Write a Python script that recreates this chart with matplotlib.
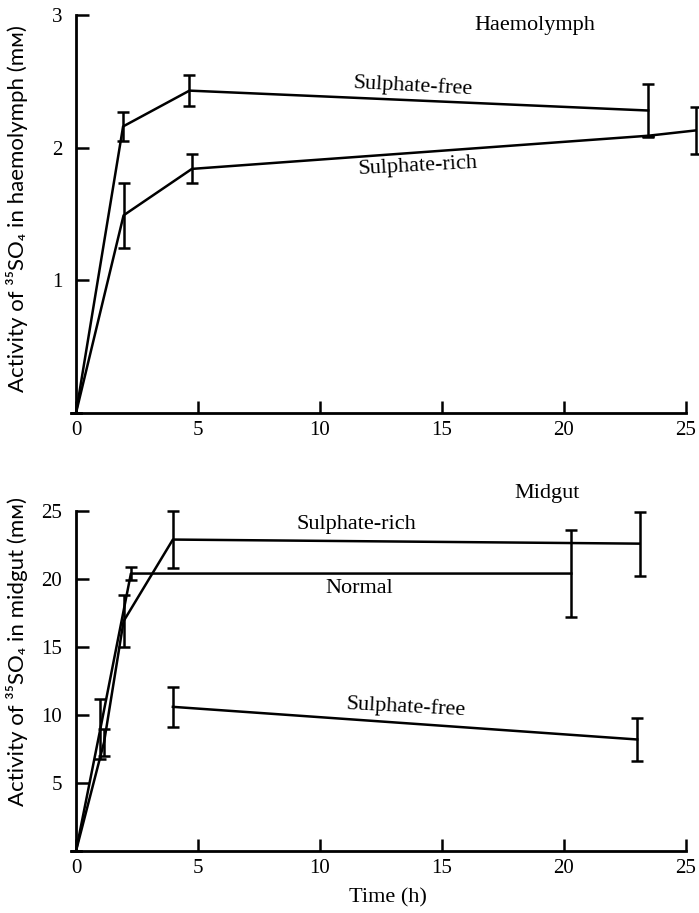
import matplotlib
matplotlib.use("Agg")
import matplotlib.pyplot as plt

plt.rcParams['font.family'] = ['Liberation Serif', 'DejaVu Serif', 'DejaVu Sans']

# haemolymph
haem_free_t = [0, 1.93, 4.65, 23.45]
haem_free_y = [0, 2.16, 2.43, 2.28]
haem_free_err = [0, 0.11, 0.115, 0.20]

haem_rich_t = [0, 1.95, 4.75, 23.45, 25.4]
haem_rich_y = [0, 1.49, 1.84, 2.09, 2.13]
haem_rich_err = [0, 0.245, 0.11, 0, 0.18]

# midgut
gut_rich_t = [0, 1.15, 1.95, 3.97, 23.1]
gut_rich_y = [0, 8.0, 16.9, 22.9, 22.6]
gut_rich_err = [0, 1.0, 1.9, 2.1, 2.35]

gut_norm_t = [0, 1.0, 2.25, 20.3]
gut_norm_y = [0, 9.0, 20.4, 20.4]
gut_norm_err = [0, 2.2, 0.5, 3.2]

gut_free_t = [3.97, 23.0]
gut_free_y = [10.6, 8.2]
gut_free_err = [1.45, 1.55]

fig = plt.figure(figsize=(6.99, 9.13), dpi=100)
ax1 = fig.add_axes([76/699, 1-413/913, 610/699, 398/913])
ax2 = fig.add_axes([76/699, 1-851/913, 610/699, 340/913])

def style(ax, ymax, yticks):
    ax.set_xlim(0, 25)
    ax.set_ylim(0, ymax)
    for s in ['top', 'right']:
        ax.spines[s].set_visible(False)
    for s in ['left', 'bottom']:
        ax.spines[s].set_linewidth(2.0)
    ax.set_xticks([0, 5, 10, 15, 20, 25])
    ax.set_yticks(yticks)
    ax.tick_params(direction='in', length=9, width=1.8, labelsize=15)
    ax.tick_params(axis='y', pad=10)
    ax.tick_params(axis='x', pad=6)

def series(ax, t, y, e):
    ax.errorbar(t, y, yerr=e, color='black', lw=1.8, capsize=4, capthick=1.8,
                elinewidth=1.8, clip_on=False)

style(ax1, 3, [1, 2, 3])
series(ax1, haem_free_t, haem_free_y, haem_free_err)
series(ax1, haem_rich_t, haem_rich_y, haem_rich_err)
ax1.text(18.8, 2.92, 'Haemolymph', ha='center', va='center', fontsize=16)
ax1.text(13.8, 2.46, 'Sulphate-free', ha='center', va='center', fontsize=16, rotation=-3)
ax1.text(14.0, 1.86, 'Sulphate-rich', ha='center', va='center', fontsize=16, rotation=3)

style(ax2, 25, [5, 10, 15, 20, 25])
series(ax2, gut_rich_t, gut_rich_y, gut_rich_err)
series(ax2, gut_norm_t, gut_norm_y, gut_norm_err)
series(ax2, gut_free_t, gut_free_y, gut_free_err)
ax2.text(19.3, 26.3, 'Midgut', ha='center', va='center', fontsize=16)
ax2.text(11.5, 24.0, 'Sulphate-rich', ha='center', va='center', fontsize=16)
ax2.text(11.6, 19.3, 'Normal', ha='center', va='center', fontsize=16)
ax2.text(13.5, 10.6, 'Sulphate-free', ha='center', va='center', fontsize=16, rotation=-3)

# axis titles in a sans face, small-capital M for millimolar
sans = ['Lato', 'DejaVu Sans']
fig.text(17/699, 1-209/913, 'Activity of \u00b3\u2075SO\u2084 in haemolymph (m\u1d0d)',
         rotation=90, ha='center', va='center', fontsize=16, family=sans)
fig.text(17/699, 1-652/913, 'Activity of \u00b3\u2075SO\u2084 in midgut (m\u1d0d)',
         rotation=90, ha='center', va='center', fontsize=16, family=sans)
fig.text(388/699, 1-898/913, 'Time (h)', ha='center', va='center', fontsize=16)

fig.savefig('out.png', dpi=100)
